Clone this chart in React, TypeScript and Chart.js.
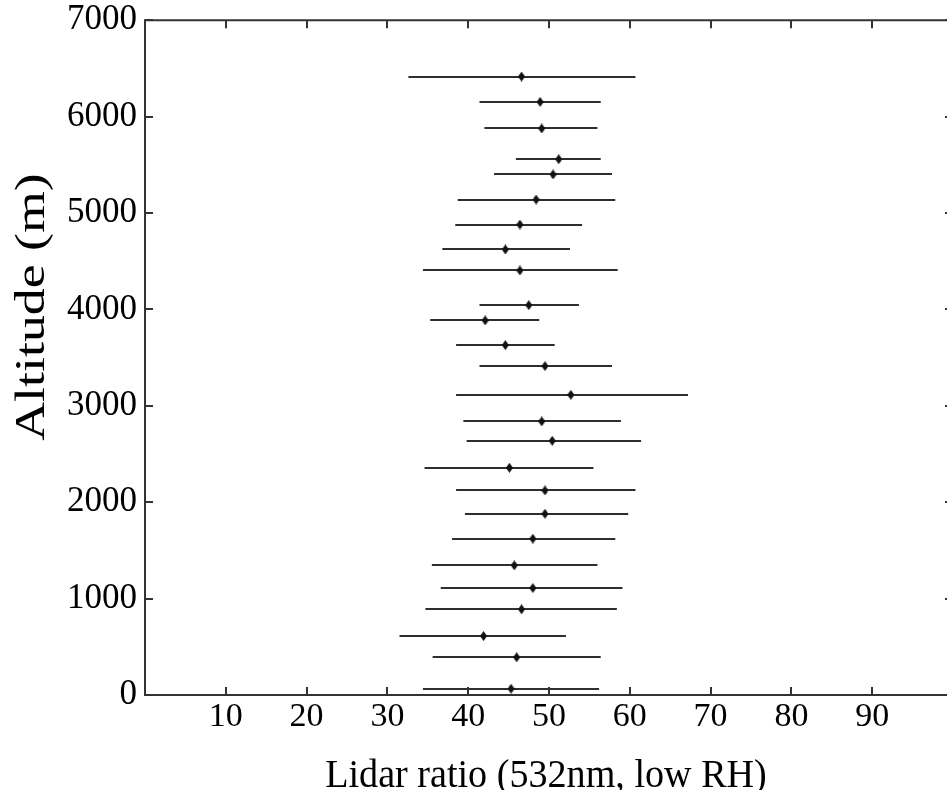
import React, { useEffect, useRef } from "react";
import { Chart, registerables } from "chart.js";

Chart.register(...registerables);

// Altitude (m) of each retrieval level
const altitudes = [
  6416, 6153, 5877, 5558, 5400, 5140, 4881, 4622, 4404, 4044, 3886, 3630, 3412,
  3114, 2838, 2637, 2357, 2122, 1880, 1621, 1345, 1110, 889, 612, 391, 65,
];
// Lidar ratio (532 nm, low RH) mean
const lidarRatio = [
  46.6, 48.9, 49.1, 51.2, 50.5, 48.4, 46.4, 44.6, 46.4, 47.5, 42.1, 44.6, 49.5,
  52.7, 49.1, 50.4, 45.1, 49.5, 49.5, 48.0, 45.7, 48.0, 46.6, 41.9, 46.0, 45.3,
];
// Error bar lower / upper ends
const errLow = [
  32.6, 41.4, 42.0, 45.9, 43.2, 38.7, 38.4, 36.8, 34.4, 41.4, 35.3, 38.5, 41.4,
  38.5, 39.4, 39.8, 34.6, 38.5, 39.6, 38.0, 35.5, 36.6, 34.7, 31.5, 35.6, 34.4,
];
const errHigh = [
  60.7, 56.4, 56.0, 56.4, 57.8, 58.2, 54.1, 52.6, 58.5, 53.7, 48.8, 50.7, 57.8,
  67.2, 58.9, 61.4, 55.5, 60.7, 59.8, 58.2, 56.0, 59.1, 58.4, 52.1, 56.4, 56.2,
];

const xTickValues = [10, 20, 30, 40, 50, 60, 70, 80, 90];
const yTickValues = [0, 1000, 2000, 3000, 4000, 5000, 6000, 7000];
const xTitle = "Lidar ratio (532nm, low RH)";
const yTitle = "Altitude (m)";

const FONT = "'Liberation Serif', 'Times New Roman', serif";

function makeMarker(): HTMLCanvasElement {
  const c = document.createElement("canvas");
  c.width = 7;
  c.height = 10;
  const g = c.getContext("2d")!;
  g.fillStyle = "#111";
  g.beginPath();
  g.moveTo(3.5, 0);
  g.lineTo(7, 5);
  g.lineTo(3.5, 10);
  g.lineTo(0, 5);
  g.closePath();
  g.fill();
  return c;
}

const framePlugin = {
  id: "framePlugin",
  beforeDatasetsDraw(chart: any) {
    const { ctx, scales } = chart;
    const xs = scales.x;
    const ys = scales.y;
    ctx.save();
    ctx.strokeStyle = "#2e2e2e";
    ctx.lineWidth = 2;
    for (let i = 0; i < altitudes.length; i++) {
      const y = Math.round(ys.getPixelForValue(altitudes[i]));
      ctx.beginPath();
      ctx.moveTo(xs.getPixelForValue(errLow[i]), y);
      ctx.lineTo(xs.getPixelForValue(errHigh[i]), y);
      ctx.stroke();
    }
    ctx.restore();
  },
  afterDraw(chart: any) {
    const { ctx, chartArea, scales } = chart;
    const { left, right, top, bottom } = chartArea;
    const xs = scales.x;
    const ys = scales.y;
    ctx.save();
    ctx.strokeStyle = "#333";
    ctx.lineWidth = 2;
    ctx.beginPath();
    ctx.rect(left, top, right - left, bottom - top);
    ctx.stroke();
    const tl = 8;
    ctx.beginPath();
    for (const v of xTickValues) {
      const x = Math.round(xs.getPixelForValue(v));
      ctx.moveTo(x, bottom);
      ctx.lineTo(x, bottom - tl);
      ctx.moveTo(x, top);
      ctx.lineTo(x, top + tl);
    }
    for (const v of yTickValues) {
      const y = Math.round(ys.getPixelForValue(v));
      ctx.moveTo(left, y);
      ctx.lineTo(left + tl, y);
      ctx.moveTo(right, y);
      ctx.lineTo(right - tl, y);
    }
    ctx.stroke();

    ctx.fillStyle = "#000";
    ctx.textAlign = "center";
    ctx.textBaseline = "alphabetic";

    ctx.save();
    ctx.translate((left + right) / 2 - 3, 787);
    ctx.scale(0.93, 1);
    ctx.font = `41px ${FONT}`;
    ctx.fillText(xTitle, 0, 0);
    ctx.restore();

    ctx.save();
    ctx.translate(44, top + (bottom - top) * 0.425);
    ctx.rotate(-Math.PI / 2);
    ctx.scale(1.17, 0.92);
    ctx.font = `46px ${FONT}`;
    ctx.fillText(yTitle, 0, 0);
    ctx.restore();

    ctx.restore();
  },
};

export default function App() {
  const ref = useRef<HTMLCanvasElement | null>(null);
  useEffect(() => {
    document.body.style.margin = "0";
    const marker = makeMarker();
    const chart = new Chart(ref.current!, {
      type: "scatter",
      data: {
        datasets: [
          {
            data: altitudes.map((a, i) => ({ x: lidarRatio[i], y: a })),
            pointStyle: marker as any,
            pointRadius: 4,
            showLine: false,
          },
        ],
      },
      options: {
        animation: false,
        responsive: false,
        layout: { padding: { top: 20, right: 7, left: 0, bottom: 0 } },
        plugins: { legend: { display: false }, tooltip: { enabled: false } },
        scales: {
          x: {
            type: "linear",
            min: 0,
            max: 100,
            afterFit: (s: any) => {
              s.height = 95;
            },
            afterBuildTicks: (s: any) => {
              s.ticks = xTickValues.map((v) => ({ value: v }));
            },
            grid: { display: false, drawTicks: false },
            border: { display: false },
            ticks: {
              color: "#000",
              padding: 2,
              maxRotation: 0,
              autoSkip: false,
              callback: (v: any) => String(v),
              font: { family: FONT, size: 34 },
            },
          },
          y: {
            type: "linear",
            min: 0,
            max: 7000,
            afterFit: (s: any) => {
              s.width = 145;
            },
            afterBuildTicks: (s: any) => {
              s.ticks = yTickValues.map((v) => ({ value: v }));
            },
            grid: { display: false, drawTicks: false },
            border: { display: false },
            ticks: {
              color: "#000",
              padding: 8,
              autoSkip: false,
              callback: (v: any) => String(v),
              font: { family: FONT, size: 35, lineHeight: 0.7 },
            },
          },
        },
      },
      plugins: [framePlugin],
    });
    return () => chart.destroy();
  }, []);
  return (
    <div style={{ width: 947, height: 790, overflow: "hidden" }}>
      <canvas ref={ref} width={960} height={790} style={{ display: "block" }} />
    </div>
  );
}
